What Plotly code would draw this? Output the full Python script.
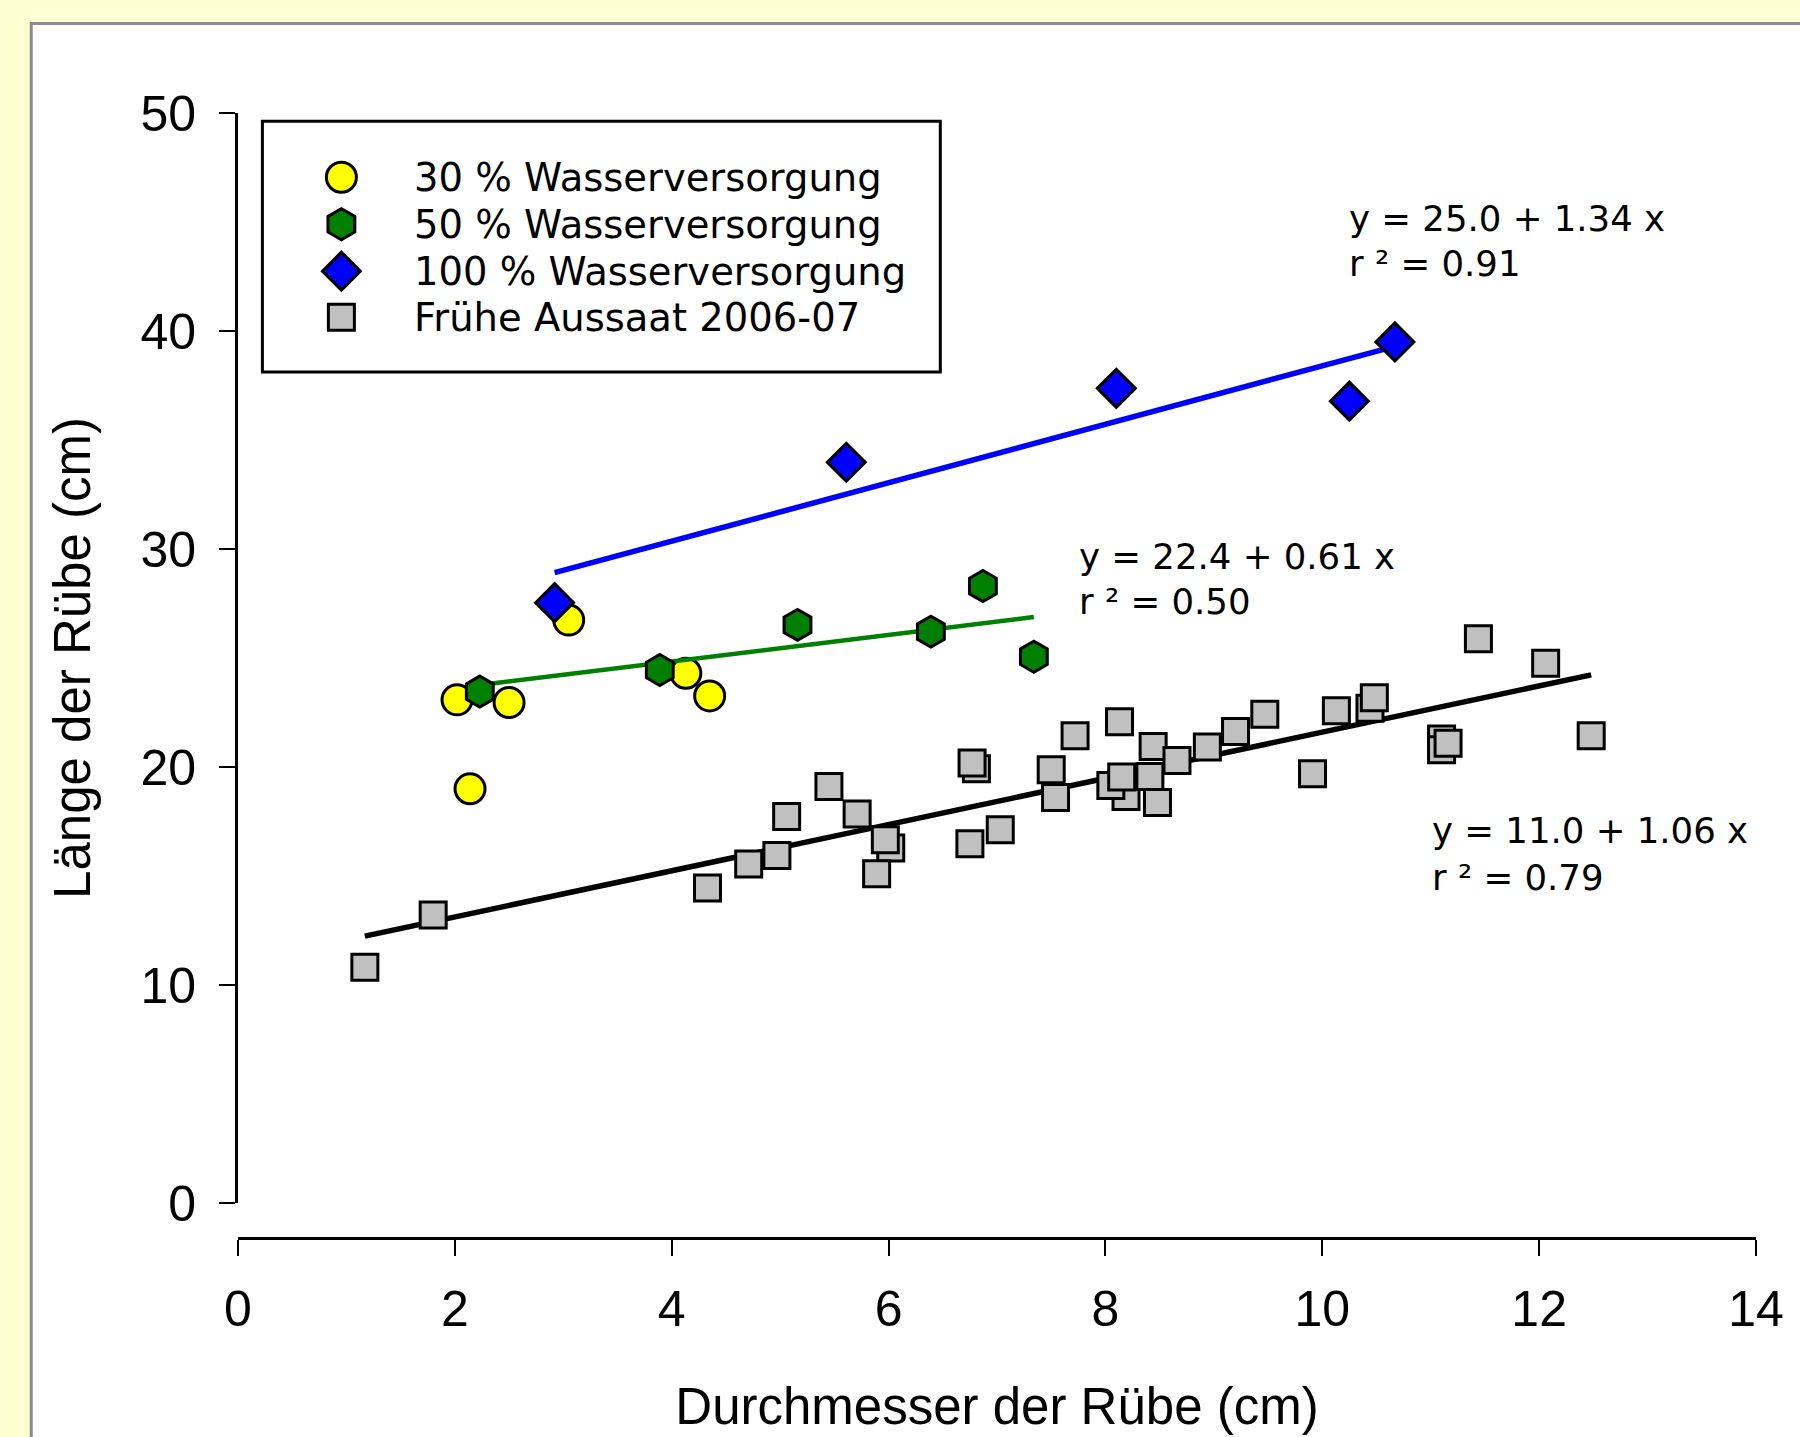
import plotly.graph_objects as go

# ---------------- data ----------------
YELLOW_X = [2.02, 2.14, 2.50, 3.05, 4.13, 4.35]
YELLOW_Y = [23.08, 19.00, 22.96, 26.74, 24.30, 23.26]

GREEN_X = [2.23, 3.89, 5.16, 6.39, 6.87, 7.34]
GREEN_Y = [23.46, 24.45, 26.52, 26.21, 28.30, 25.06]

BLUE_X = [2.92, 5.61, 8.10, 10.25, 10.67]
BLUE_Y = [27.54, 33.98, 37.37, 36.78, 39.50]

GRAY_X = [1.17, 1.80, 4.33, 4.71, 4.97, 5.06, 5.45, 5.71, 6.02, 5.97,
          5.89, 6.81, 6.77, 6.75, 7.03, 7.50, 7.54, 7.72, 8.13, 8.19,
          8.05, 8.15, 8.44, 8.41, 8.48, 8.66, 8.94, 9.20, 9.47, 9.91,
          10.13, 10.44, 10.48, 11.10, 11.10, 11.16, 11.44, 12.06, 12.48]
GRAY_Y = [10.81, 13.21, 14.45, 15.55, 15.94, 17.73, 19.11, 17.85, 16.28, 16.66,
          15.10, 19.92, 20.18, 16.48, 17.12, 19.87, 18.60, 21.43, 22.08, 18.65,
          19.15, 19.54, 20.94, 19.56, 18.37, 20.30, 20.92, 21.63, 22.42, 19.69,
          22.58, 22.70, 23.18, 21.28, 20.79, 21.09, 25.88, 24.76, 21.43]

SERIES_NAMES = ["30 % Wasserversorgung", "50 % Wasserversorgung",
                "100 % Wasserversorgung", "Frühe Aussaat 2006-07"]

# regression results printed on the chart: (intercept, slope, r²)
FIT_GREEN = (22.4, 0.61, 0.50)
FIT_BLUE = (25.0, 1.34, 0.91)
FIT_GRAY = (11.0, 1.06, 0.79)

X_TICKS = [0, 2, 4, 6, 8, 10, 12, 14]
Y_TICKS = [0, 10, 20, 30, 40, 50]
X_TITLE = "Durchmesser der Rübe (cm)"
Y_TITLE = "Länge der Rübe (cm)"

# ---------------- layout geometry (pixels) ----------------
W, H = 1800, 1437
PLOT_L, PLOT_R = 237.6, 1755.8
PLOT_T = 112.7          # y = 50
Y0_PX = 1203.5          # y = 0
XAXIS_PX = 1238.5       # detached x axis line
PH = XAXIS_PX - PLOT_T
PW = PLOT_R - PLOT_L
XR = [X_TICKS[0], X_TICKS[-1]]
YR = [Y_TICKS[0], Y_TICKS[-1]]


def paper_x(px):
    return (px - PLOT_L) / PW


def paper_y(py):
    return (XAXIS_PX - py) / PH


def data_x(px):
    return XR[0] + (px - PLOT_L) / PW * (XR[1] - XR[0])


def data_y(py):
    return YR[0] + (Y0_PX - py) / (Y0_PX - PLOT_T) * (YR[1] - YR[0])


ARIAL = "Liberation Sans, Arial, sans-serif"
WIDE = "DejaVu Sans, Verdana, sans-serif"

STYLES = [
    dict(symbol="circle", size=30, color="#FFFF00", line=dict(color="black", width=3)),
    dict(symbol="hexagon", size=31, color="#008000", line=dict(color="black", width=3)),
    dict(symbol="diamond", size=29, color="#0000FF", line=dict(color="black", width=3.2)),
    dict(symbol="square", size=26, color="#C0C0C0", line=dict(color="black", width=3)),
]

fig = go.Figure()


def fit_line(xs, fit, color, width):
    a, b, _ = fit
    x0, x1 = min(xs), max(xs)
    fig.add_trace(go.Scatter(x=[x0, x1], y=[a + b * x0, a + b * x1], mode="lines",
                             line=dict(color=color, width=width),
                             showlegend=False, hoverinfo="skip"))


fit_line(GRAY_X, FIT_GRAY, "black", 5.5)
fig.add_trace(go.Scatter(x=GRAY_X, y=GRAY_Y, mode="markers", name=SERIES_NAMES[3],
                         marker=STYLES[3], showlegend=False))
fig.add_trace(go.Scatter(x=YELLOW_X, y=YELLOW_Y, mode="markers", name=SERIES_NAMES[0],
                         marker=STYLES[0], showlegend=False))
fit_line(GREEN_X, FIT_GREEN, "#008000", 4.5)
fig.add_trace(go.Scatter(x=GREEN_X, y=GREEN_Y, mode="markers", name=SERIES_NAMES[1],
                         marker=STYLES[1], showlegend=False))
fit_line(BLUE_X, FIT_BLUE, "#0000FF", 5.5)
fig.add_trace(go.Scatter(x=BLUE_X, y=BLUE_Y, mode="markers", name=SERIES_NAMES[2],
                         marker=STYLES[2], showlegend=False))

# ---------------- custom legend ----------------
LEG_BOX = (262, 121, 940, 372)        # left, top, right, bottom (px)
LEG_KEY_X = 341
LEG_TEXT_X = 412
LEG_ROWS = [177, 224, 271, 317]

shapes = []
# white panel with gray frame
shapes.append(dict(type="rect", xref="paper", yref="paper", layer="below",
                   x0=paper_x(30.8), x1=paper_x(1830), y0=paper_y(23.2), y1=paper_y(1480),
                   line=dict(color="#8c8c8c", width=3), fillcolor="white"))
shapes.append(dict(type="rect", xref="paper", yref="paper", layer="above",
                   x0=paper_x(LEG_BOX[0]), x1=paper_x(LEG_BOX[2]),
                   y0=paper_y(LEG_BOX[3]), y1=paper_y(LEG_BOX[1]),
                   line=dict(color="black", width=3), fillcolor="rgba(0,0,0,0)"))

annotations = []
for name, style, row in zip(SERIES_NAMES, STYLES, LEG_ROWS):
    fig.add_trace(go.Scatter(x=[data_x(LEG_KEY_X)], y=[data_y(row)], mode="markers",
                             marker=style, showlegend=False, hoverinfo="skip"))
    annotations.append(dict(text=name, xref="paper", yref="paper",
                            x=paper_x(LEG_TEXT_X), y=paper_y(row), xanchor="left",
                            yanchor="middle", showarrow=False,
                            font=dict(family=WIDE, size=38.5, color="black")))

# ---------------- regression labels ----------------
LABELS = [
    (FIT_BLUE, 1347, 218, 263),
    (FIT_GREEN, 1077, 557, 602),
    (FIT_GRAY, 1430, 831, 878),
]
for (a, b, r2), lx, y1, y2 in LABELS:
    for txt, yy in ((f"y = {a:.1f} + {b:.2f} x", y1), (f"r ² = {r2:.2f}", y2)):
        annotations.append(dict(text=txt, xref="paper", yref="paper",
                                x=paper_x(lx), y=paper_y(yy), xanchor="left",
                                yanchor="middle", showarrow=False,
                                font=dict(family=WIDE, size=35.5, color="black")))

fig.update_layout(
    width=W, height=H,
    margin=dict(l=PLOT_L, r=W - PLOT_R, t=PLOT_T, b=H - XAXIS_PX, pad=0),
    paper_bgcolor="#FFFFD4",
    plot_bgcolor="rgba(0,0,0,0)",
    showlegend=False,
    shapes=shapes,
    annotations=annotations,
    font=dict(family=ARIAL, color="black"),
    xaxis=dict(range=XR, tickvals=X_TICKS, anchor="free", position=0,
               showline=True, linecolor="black", linewidth=3,
               ticks="outside", ticklen=16, tickwidth=2, tickcolor="black",
               ticklabelstandoff=10,
               showgrid=False, zeroline=False,
               tickfont=dict(family=ARIAL, size=50),
               title=dict(text=X_TITLE, font=dict(family=ARIAL, size=51), standoff=52)),
    yaxis=dict(range=YR, tickvals=Y_TICKS, domain=[(XAXIS_PX - Y0_PX) / PH, 1],
               showline=True, linecolor="black", linewidth=3,
               ticks="outside", ticklen=16, tickwidth=2, tickcolor="black",
               ticklabelstandoff=13,
               showgrid=False, zeroline=False,
               tickfont=dict(family=ARIAL, size=50),
               title=dict(text=Y_TITLE, font=dict(family=ARIAL, size=51), standoff=34)),
)

fig.write_html("out.html", config={"displayModeBar": False},
               post_script="document.body.style.margin='0px';")
